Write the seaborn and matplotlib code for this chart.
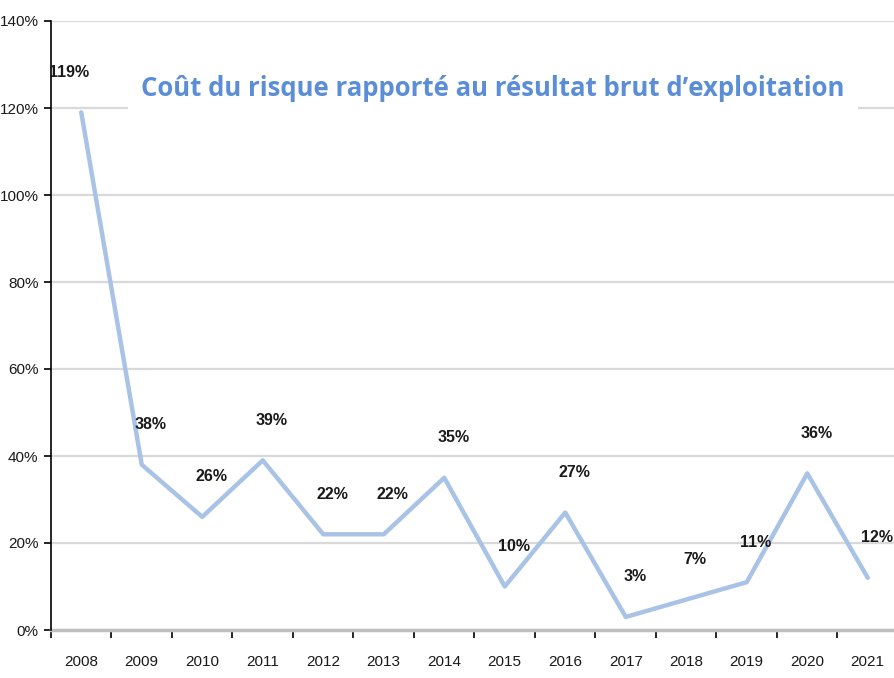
import matplotlib
matplotlib.use("Agg")
import matplotlib.pyplot as plt
import seaborn as sns
import pandas as pd
import numpy as np
from matplotlib import font_manager

years = ["2008", "2009", "2010", "2011", "2012", "2013", "2014",
         "2015", "2016", "2017", "2018", "2019", "2020", "2021"]
values = [119, 38, 26, 39, 22, 22, 35, 10, 27, 3, 7, 11, 36, 12]
labels = ["119%", "38%", "26%", "39%", "22%", "22%", "35%",
          "10%", "27%", "3%", "7%", "11%", "36%", "12%"]
yticks = [0, 20, 40, 60, 80, 100, 120, 140]
title = "Coût du risque rapporté au résultat brut d\u2019exploitation"

sns.set_theme(style="white")
names = {f.name for f in font_manager.fontManager.ttflist}
narrow = "Liberation Sans Narrow" if "Liberation Sans Narrow" in names else "Liberation Sans"
plt.rcParams["font.family"] = [narrow, "DejaVu Sans"]

df = pd.DataFrame({"pos": np.arange(len(years)), "val": values})

fig = plt.figure(figsize=(8.95, 6.78), dpi=100)
ax = fig.add_axes([51/895, 48/678, 847/895, 609/678])

for y in yticks[1:]:
    ax.axhline(y, color="#d9d9d9", lw=1.6, zorder=0)

sns.lineplot(data=df, x="pos", y="val", ax=ax, color="#a9c3e6", lw=3.2, zorder=3)

ax.set_xlim(-0.5, 13.5)
ax.set_ylim(0, 140)
ax.set_yticks(yticks)
ax.set_yticklabels([f"{v}%" for v in yticks])
ax.set_xticks(np.arange(-0.5, 14.0, 1.0))
ax.set_xticklabels([])
ax.set_xticks(np.arange(len(years)), minor=True)
ax.set_xticklabels(years, minor=True)
ax.tick_params(axis="x", which="major", length=6, width=1.2, color="black", direction="out", bottom=True)
ax.tick_params(axis="x", which="minor", length=0, pad=18, labelsize=11, labelcolor="#1a1a1a", bottom=True)
ax.tick_params(axis="y", length=5, width=1.2, color="black", direction="out", left=True,
               labelsize=11, labelcolor="#1a1a1a", pad=4)
ax.set_xlabel("")
ax.set_ylabel("")

for s in ["top", "right"]:
    ax.spines[s].set_visible(False)
ax.spines["left"].set_color("black")
ax.spines["left"].set_linewidth(1.2)
ax.spines["bottom"].set_color("#bfbfbf")
ax.spines["bottom"].set_linewidth(2.5)
ax.spines["bottom"].set_zorder(1)

for i, (v, lab) in enumerate(zip(values, labels)):
    dx = -12 if i == 0 else 9
    ax.annotate(lab, (i, v), xytext=(dx, 40), textcoords="offset pixels",
                ha="center", va="center", fontsize=11.5, fontweight="bold",
                color="#1a1a1a", zorder=5)

fig.text(493/895, 1 - 88/678, title, ha="center", va="center",
         fontsize=18.5, fontweight="bold", color="#5b8ed6",
         family=["Open Sans", "DejaVu Sans"],
         bbox=dict(boxstyle="square,pad=0.5", fc="white", ec="none"), zorder=10)

fig.savefig("out.png", dpi=100)
